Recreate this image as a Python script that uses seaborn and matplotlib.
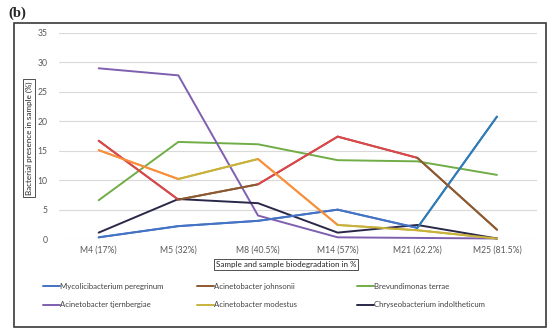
import matplotlib.pyplot as plt
import matplotlib.patches as mpatches
from matplotlib.lines import Line2D
import seaborn as sns
import pandas as pd

# Values
samples = ["M4 (17%)", "M5 (32%)", "M8 (40.5%)", "M14 (57%)", "M21 (62.2%)", "M25 (81.5%)"]
myco = [0.3, 2.2, 3.1, 5.0, 1.9, 20.8]
johnsonii = [16.7, 6.7, 9.3, 17.4, 13.8, 1.6]
brevundimonas = [6.6, 16.5, 16.1, 13.4, 13.2, 10.9]
tjernbergiae = [29.0, 27.8, 4.0, 0.3, 0.2, 0.1]
modestus = [15.1, 10.2, 13.6, 2.4, 1.5, 0.1]
chryseo = [1.1, 6.8, 6.1, 1.1, 2.4, 0.1]

names = ["Mycolicibacterium peregrinum", "Acinetobacter johnsonii", "Brevundimonas terrae",
         "Acinetobacter tjernbergiae", "Acinetobacter modestus", "Chryseobacterium indoltheticum"]
series = [myco, johnsonii, brevundimonas, tjernbergiae, modestus, chryseo]
colors = ["#4472C4", "#8C5A32", "#70AD47", "#7F5FAF", "#C8B23C", "#2A2849"]

# segment colours as they appear in the original figure
seg_colors = {
    "Mycolicibacterium peregrinum": ["#4472C4"] * 4 + ["#2E7DB5"],
    "Acinetobacter johnsonii": ["#E0444C", "#8C5A32", "#E0444C", "#E0444C", "#8C5A32"],
    "Acinetobacter modestus": ["#FF8C3C", "#C8B23C", "#FF8C3C", "#C8B23C", "#C8B23C"],
}

rows = []
for name, vals in zip(names, series):
    for i, v in enumerate(vals):
        rows.append({"pos": i, "value": v, "species": name})
df = pd.DataFrame(rows)

sns.set_style("white")
plt.rcParams['font.family'] = ['Lato', 'DejaVu Sans']

fig = plt.figure(figsize=(5.5, 3.33), dpi=100)
ax = fig.add_axes([0.107, 0.282, 0.869, 0.619])

sns.lineplot(data=df, x="pos", y="value", hue="species", hue_order=names,
             palette=colors, linewidth=1.4, legend=False, ax=ax, clip_on=False, zorder=3)

# recolour individual segments
for name, cols in seg_colors.items():
    sub = df[df["species"] == name]
    for i, c in enumerate(cols):
        seg = sub[(sub["pos"] >= i) & (sub["pos"] <= i + 1)]
        sns.lineplot(data=seg, x="pos", y="value", color=c, linewidth=1.4,
                     ax=ax, clip_on=False, zorder=4, legend=False)

ax.set_xlim(-0.5, len(samples) - 0.5)
ax.set_ylim(0, 35)
ax.set_yticks(range(0, 36, 5))
ax.set_xticks(range(len(samples)))
ax.set_xticklabels(samples)
ax.yaxis.grid(True, color="#D9D9D9", linewidth=0.8)
ax.set_axisbelow(True)
for s in ax.spines.values():
    s.set_visible(False)
ax.tick_params(axis="both", length=0, labelsize=6.2, colors="#595959", pad=5)
ax.tick_params(axis="y", pad=8)

ax.set_xlabel("Sample and sample biodegradation in %", fontsize=5.8, color="#222222",
              bbox=dict(boxstyle="square,pad=0.25", fc="white", ec="#333333", lw=0.6))
ax.set_ylabel("Bacterial presence in sample (%)", fontsize=5.8, color="#222222",
              bbox=dict(boxstyle="square,pad=0.25", fc="white", ec="#333333", lw=0.6))
ax.xaxis.set_label_coords(0.475, -0.105)
ax.yaxis.set_label_coords(-0.055, 0.49)

# legend in three columns, row-major order
col_x = [0.078, 0.358, 0.649]
for k in range(3):
    handles = [Line2D([], [], color=colors[k], lw=1.4), Line2D([], [], color=colors[k + 3], lw=1.4)]
    fig.legend(handles, [names[k], names[k + 3]], loc="upper left",
               bbox_to_anchor=(col_x[k], 0.15), frameon=False, fontsize=5.6,
               handlelength=2.2, handletextpad=0.0, labelspacing=1.45,
               borderaxespad=0, borderpad=0, labelcolor="#404040")

# outer frame and panel label
fig.patches.append(mpatches.Rectangle((14 / 550, 1 - 327 / 333), 532 / 550, 304 / 333,
                                      transform=fig.transFigure, fill=False,
                                      ec="#3A3A3A", lw=1.2))
fig.text(0.016, 0.96, "(b)", fontsize=10.5, fontweight="bold", family="Liberation Serif",
         va="center", ha="left")

fig.savefig("out.png", dpi=100)
